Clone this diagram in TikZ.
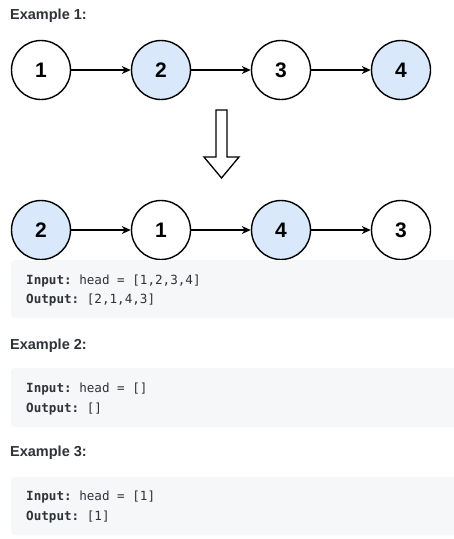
\documentclass[tikz,border=0pt]{standalone}
\usepackage{fontspec}
\setmainfont{Liberation Sans}
\setmonofont{DejaVu Sans Mono}
\usetikzlibrary{arrows.meta}
\definecolor{swapblue}{HTML}{DAE8FC}
\definecolor{codebg}{HTML}{F6F7F9}
\definecolor{inktext}{HTML}{2F3237}
\begin{document}
\begin{tikzpicture}[>={Stealth[length=9pt,width=8pt]}, x=1pt, y=-1pt,
    listnode/.style={circle, draw, line width=1.4pt, minimum size=59pt, inner sep=0pt,
        font=\fontsize{21}{21}\selectfont\bfseries},
    swapped/.style={fill=swapblue},
    heading/.style={anchor=base west, inner sep=0pt, text=inktext,
        font=\fontsize{14.5}{16}\selectfont\bfseries},
    codeline/.style={anchor=base west, inner sep=0pt, text=inktext,
        font=\fontsize{12.6}{15}\selectfont\ttfamily},
    codebox/.style={fill=codebg, rounded corners=4pt}]
\useasboundingbox (0,0) rectangle (454,539);
\fill[white] (0,0) rectangle (454,539);
    \begin{scope}
\node[heading] (ex1) at (10,19.5) {Example 1:};
\node[listnode] (a1) at (41,70) {1};
\node[listnode, swapped] (a2) at (161,70) {2};
\node[listnode] (a3) at (281,70) {3};
\node[listnode, swapped] (a4) at (401,70) {4};
\draw[->, line width=1.3pt](a1)--(a2);
\draw[->, line width=1.3pt](a2)--(a3);
\draw[->, line width=1.3pt](a3)--(a4);
\end{scope}
% hollow arrow between the two lists
\draw[line width=1.3pt, line join=miter] (216,110)--(227,110)--(227,157)--(239,157)--(221.5,178)--(204,157)--(216,157)--cycle;
\begin{scope}
\node[listnode, swapped] (b1) at (41,230) {2};
\node[listnode] (b2) at (161,230) {1};
\node[listnode, swapped] (b3) at (281,230) {4};
\node[listnode] (b4) at (401,230) {3};
\draw[->, line width=1.3pt](b1)--(b2);
\draw[->, line width=1.3pt](b2)--(b3);
\draw[->, line width=1.3pt](b3)--(b4);
\fill[codebox] (11,260) rectangle (462,318);
\node[codeline] (in1) at (26,284) {\textbf{Input:} head = [1,2,3,4]};
\node[codeline] (out1) at (26,303.3) {\textbf{Output:} [2,1,4,3]};
\end{scope}
\begin{scope}
\node[heading] (ex2) at (10,349.3) {Example 2:};
\fill[codebox] (11,368) rectangle (462,427);
\node[codeline] (in2) at (26,392.7) {\textbf{Input:} head = []};
\node[codeline] (out2) at (26,412.7) {\textbf{Output:} []};
\end{scope}
\begin{scope}
\node[heading] (ex3) at (10,456.7) {Example 3:};
\fill[codebox] (11,477) rectangle (462,535);
\node[codeline] (in3) at (26,500) {\textbf{Input:} head = [1]};
\node[codeline] (out3) at (26,520) {\textbf{Output:} [1]};
\end{scope}
\end{tikzpicture}
\end{document}
